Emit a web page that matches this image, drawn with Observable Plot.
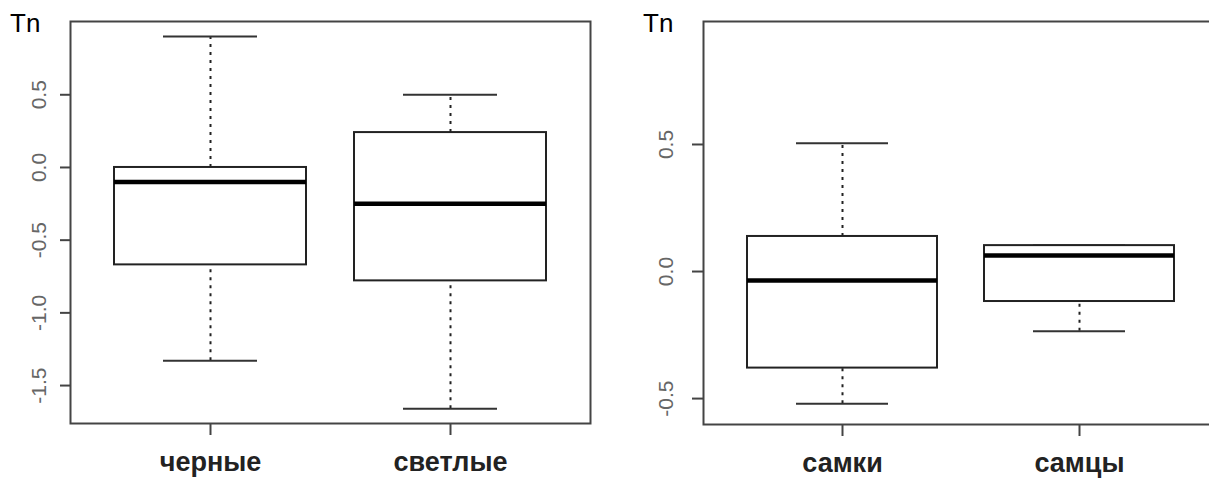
<!DOCTYPE html>
<html><head><meta charset="utf-8">
<script src="https://cdn.jsdelivr.net/npm/d3@7"></script>
<script src="https://cdn.jsdelivr.net/npm/@observablehq/plot@0.6"></script>
<style>
body{margin:0;background:#fff;}
#wrap{position:relative;width:1209px;height:479px;overflow:hidden;background:#fff;font-family:"Liberation Sans",Arial,sans-serif;}
.panel{position:absolute;top:0;}
.tn{position:absolute;top:10px;font-size:26px;line-height:26px;color:#000;font-family:"Liberation Sans",Arial,sans-serif;}
</style></head><body>
<div id="wrap"></div>
<script>
// Left panel: colour morphs
const colorGroups = ["черные", "светлые"];
const colorLow  = [-1.33, -1.66];
const colorQ1   = [-0.67, -0.78];
const colorMed  = [-0.10, -0.25];
const colorQ3   = [0.00, 0.24];
const colorHigh = [0.90, 0.50];
const colorTicks = [0.5, 0.0, -0.5, -1.0, -1.5];
const colorDomain = [-1.761, 1.004];

// Right panel: sexes
const sexGroups = ["самки", "самцы"];
const sexLow  = [-0.52, -0.235];
const sexQ1   = [-0.38, -0.118];
const sexMed  = [-0.035, 0.063];
const sexQ3   = [0.138, 0.102];
const sexHigh = [0.505, 0.102];
const sexTicks = [0.5, 0.0, -0.5];
const sexDomain = [-0.602, 0.984];

const yLabel = "Tn";

function panel(groups, low, q1, med, q3, high, ticks, domain, o) {
  const rows = groups.map((g, i) => ({g, low: low[i], q1: q1[i], med: med[i], q3: q3[i], high: high[i]}));
  const font = "Liberation Sans, Arial, sans-serif";
  return Plot.plot({
    width: o.width, height: 479,
    marginLeft: o.ml, marginRight: o.mr, marginTop: 21, marginBottom: o.mb,
    style: {background: "transparent", fontFamily: font},
    x: {type: "band", domain: groups, paddingInner: 0.2, paddingOuter: 0.1833, align: 0.5, axis: null},
    y: {domain, axis: null},
    marks: [
      Plot.ruleX(rows, {x: "g", y1: "q3", y2: "high", stroke: "#222", strokeWidth: 2, strokeDasharray: "3,5"}),
      Plot.ruleX(rows, {x: "g", y1: "low", y2: "q1", stroke: "#222", strokeWidth: 2, strokeDasharray: "3,5"}),
      Plot.tickY(rows, {x: "g", y: "high", inset: 49, stroke: "#333", strokeWidth: 2}),
      Plot.tickY(rows, {x: "g", y: "low", inset: 49, stroke: "#333", strokeWidth: 2}),
      Plot.barY(rows, {x: "g", y1: "q1", y2: "q3", fill: "white", stroke: "#222", strokeWidth: 2}),
      Plot.tickY(rows, {x: "g", y: "med", stroke: "#000", strokeWidth: 4.5}),
      Plot.frame({stroke: "#444", strokeWidth: 2}),
      Plot.axisY({ticks, tickSize: o.ts, tickFormat: () => "", stroke: "#444", strokeWidth: 2, label: null}),
      Plot.text(ticks, {y: d => d, text: d => d.toFixed(1), frameAnchor: "left", dx: o.ldx, rotate: -90,
        textAnchor: "middle", lineAnchor: "bottom", fontSize: 21, fill: "#666", fontFamily: font}),
      Plot.axisX({tickSize: 12, tickFormat: () => "", stroke: "#444", strokeWidth: 2, label: null}),
      Plot.text(rows, {x: "g", text: "g", frameAnchor: "bottom", dy: 47, fontSize: 27, fontWeight: "bold",
        fill: "#222", fontFamily: font})
    ]
  });
}

const wrap = document.getElementById("wrap");

const p1 = panel(colorGroups, colorLow, colorQ1, colorMed, colorQ3, colorHigh, colorTicks, colorDomain,
  {width: 600, ml: 70, mr: 10, mb: 56, ts: 10, ldx: -25});
p1.classList.add("panel"); p1.style.left = "0px";
wrap.appendChild(p1);

const p2 = panel(sexGroups, sexLow, sexQ1, sexMed, sexQ3, sexHigh, sexTicks, sexDomain,
  {width: 620, ml: 103, mr: 3, mb: 55, ts: 11, ldx: -31});
p2.classList.add("panel"); p2.style.left = "600px";
wrap.appendChild(p2);

for (const x of [10, 643]) {
  const t = document.createElement("div");
  t.className = "tn"; t.style.left = x + "px"; t.textContent = yLabel;
  wrap.appendChild(t);
}
</script>
</body></html>
